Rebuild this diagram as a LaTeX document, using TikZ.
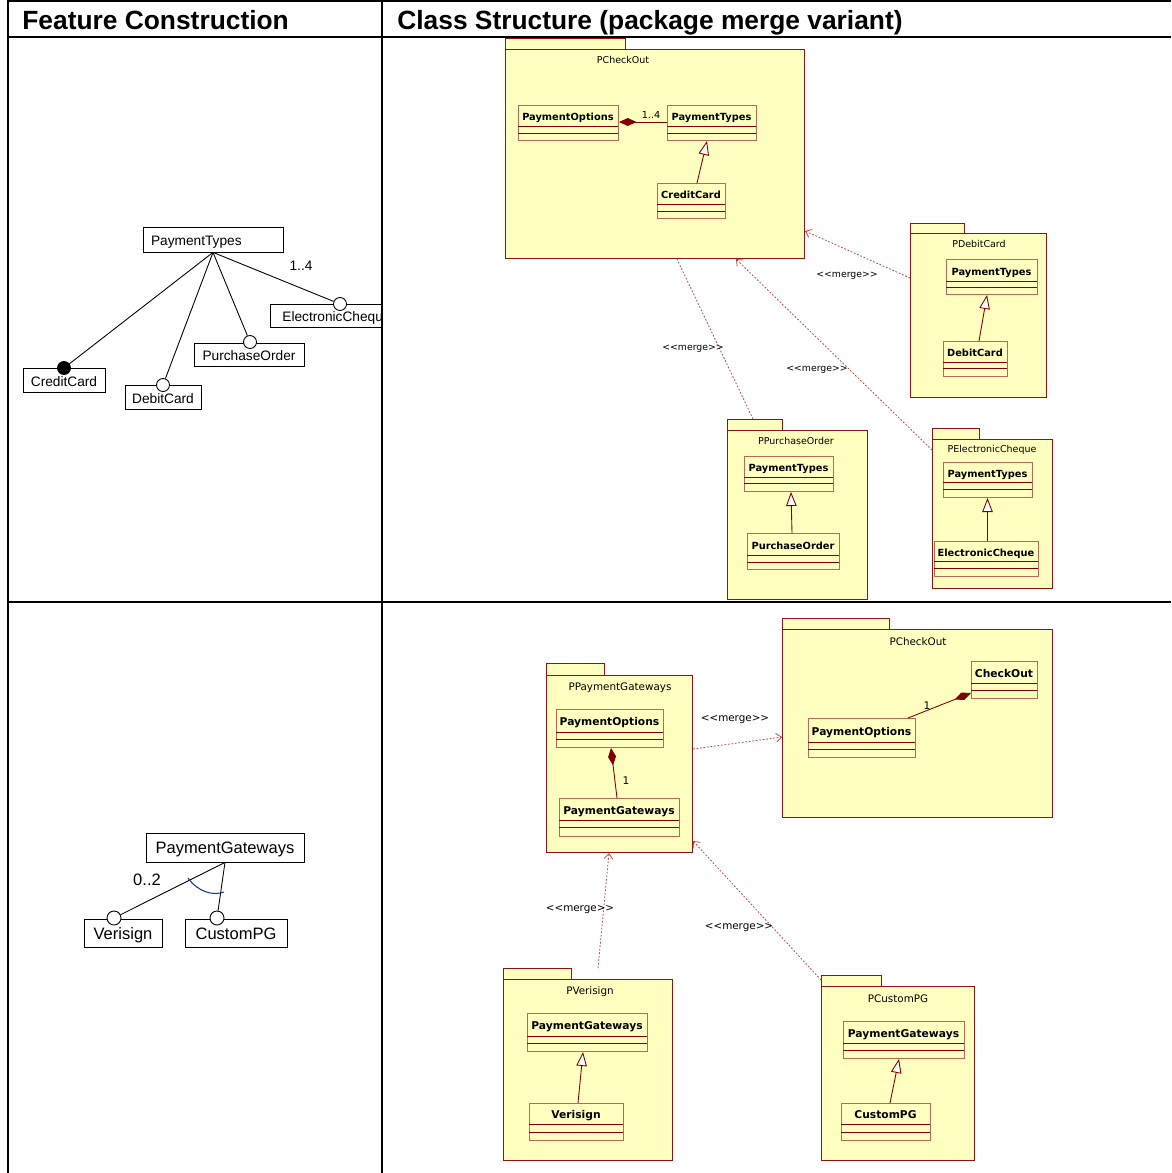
\documentclass[tikz,border=0pt]{standalone}
\usepackage{fontspec}
\setmainfont{Liberation Sans}
\newfontfamily\umlfont{DejaVu Sans}
\usetikzlibrary{arrows.meta}

\definecolor{pkgfill}{RGB}{255,255,191}
\definecolor{pkgline}{RGB}{140,20,20}
\definecolor{clsline}{RGB}{185,105,85}
\definecolor{umlred}{RGB}{128,0,0}
\definecolor{mergeline}{RGB}{185,70,70}
\definecolor{arcblue}{RGB}{30,50,130}

% one drawing unit
\newlength\PX
\setlength\PX{0.02cm}
\newcommand\umlfs[1]{\fontsize{#1}{#1}\selectfont}

% package: name, left x, tab top, tab right, body top, body right, body bottom, title x, title
\newcommand\pkgtoff{11}
\newcommand\umlpkg[9]{%
  \node[pkgbox, minimum width={(#4-#2)*\PX}, minimum height={(#5-#3)*\PX}] (#1-tab) at (#2,#3) {};
  \node[pkgbox, minimum width={(#6-#2)*\PX}, minimum height={(#7-#5)*\PX}] (#1) at (#2,#5) {};
  \node[pkgtitle] (#1-title) at (#8,{#5+\pkgtoff}) {#9};
}
% class: name, left, top, right, bottom, first divider, second divider, class name
\newcommand\umlclass[8]{%
  \node[clsbox, minimum width={(#4-#2)*\PX}, minimum height={(#5-#3)*\PX}] (#1) at (#2,#3) {};
  \draw[cline] (#2,#6) -- (#4,#6) (#2,#7) -- (#4,#7);
  \node[cname] (#1-name) at ({(#2+#4)/2},{(#3+#6)/2}) {#8};
}

\tikzset{
  tbl/.style={line width=1.15pt, black},
  hdr/.style={font=\bfseries\fontsize{15}{18}\selectfont, inner sep=0pt, anchor=base west},
  fbox/.style={draw, line width=0.45pt, inner sep=0pt, minimum height=24*\PX,
    text height=0.72em, text depth=0pt, font=\fontsize{7.8}{9}\selectfont},
  fboxL/.style={fbox, font=\fontsize{9.4}{11}\selectfont, minimum height=29*\PX},
  fcirc/.style={circle, draw, fill=white, line width=0.5pt, inner sep=0pt, minimum size=13*\PX},
  fdot/.style={fcirc, fill=black},
  fedge/.style={line width=0.5pt},
  fmult/.style={inner sep=0pt, font=\fontsize{7.8}{9}\selectfont},
  farc/.style={draw=arcblue, line width=0.6pt},
  pkgbox/.style={draw=pkgline, fill=pkgfill, line width=0.6pt, inner sep=0pt, anchor=north west},
  pkgtitle/.style={inner sep=0pt, font=\umlfont\umlfs{5.4}},
  clsbox/.style={draw=clsline, fill=pkgfill, line width=0.55pt, inner sep=0pt, anchor=north west},
  cline/.style={draw=umlred, line width=0.4pt},
  cname/.style={inner sep=0pt, text height=0.73em, text depth=0.15em, font=\umlfont\bfseries\umlfs{5.6}},
  gen/.style={draw=umlred, line width=0.5pt, -{Triangle[open, length=8pt, width=6pt, fill=white]}},
  comp/.style={draw=umlred, line width=0.5pt, {Diamond[length=10pt, width=4.5pt]}-},
  merge/.style={draw=mergeline, line width=0.45pt, dash pattern=on 1pt off 1pt},
  mergehead/.style={merge, -{Straight Barb[length=3pt, width=5pt]}},
  mlabel/.style={inner sep=0pt, font=\umlfont\umlfs{5.3}},
  mult/.style={inner sep=0pt, font=\umlfont\umlfs{5.5}},
}

\begin{document}
\begin{tikzpicture}[x=0.02cm, y=-0.02cm]
\useasboundingbox (0,0) rectangle (1171,1173);

% ---------- column headers ----------
\node[hdr] (hFeat) at (22,30) {Feature Construction};
\node[hdr] (hClass) at (397,30) {Class Structure (package merge variant)};

% ---------- feature model: payment types ----------
\node[fbox, inner xsep=8*\PX, text width=124*\PX, align=left, minimum height=25*\PX] (ftTypes) at (213,239.5) {PaymentTypes};
\node[fbox, minimum width=82*\PX] (ftCredit) at (64,380) {CreditCard};
\node[fbox, minimum width=76*\PX] (ftDebit) at (163,397) {DebitCard};
\node[fbox, minimum width=110*\PX, minimum height=23*\PX] (ftPurchase) at (249,354.5) {PurchaseOrder};
\begin{scope}
  \clip (0,0) rectangle (381,600);
  \node[fbox, minimum width=133*\PX, minimum height=23*\PX] (ftCheque) at (336.5,315.5) {ElectronicCheque};
\end{scope}
\node[fdot] (cCredit) at (64,368) {};
\node[fcirc] (cDebit) at (163,385) {};
\node[fcirc] (cPurchase) at (250,342) {};
\node[fcirc] (cCheque) at (340,304) {};
\draw[fedge] (ftTypes.south) -- (cCredit);
\draw[fedge] (ftTypes.south) -- (cDebit);
\draw[fedge] (ftTypes.south) -- (cPurchase);
\draw[fedge] (ftTypes.south) -- (cCheque);
\node[fmult] (mFeatTypes) at (301,266) {1..4};

% ---------- feature model: payment gateways ----------
\node[fboxL, minimum width=158*\PX] (fbGate) at (225,847.5) {PaymentGateways};
\node[fboxL, minimum width=78*\PX, minimum height=28*\PX] (fbVeri) at (123,933) {Verisign};
\node[fboxL, minimum width=102*\PX, minimum height=28*\PX] (fbCustom) at (236,933) {CustomPG};
\node[fcirc, minimum size=14*\PX] (cVeri) at (114,918) {};
\node[fcirc, minimum size=14*\PX] (cCustom) at (217,918) {};
\draw[fedge] (fbGate.south) -- (cVeri);
\draw[fedge] (fbGate.south) -- (cCustom);
\draw[farc] (188,878) .. controls (198,892) and (213,896) .. (224,892);
\node[fmult, font=\fontsize{9.4}{11}\selectfont] (mFeatGate) at (147,880) {0..2};

% ---------- class structure: payment types ----------
\umlpkg{pco}{505}{38}{625}{49}{804}{258}{623}{PCheckOut}
\umlclass{coOpt}{518}{105}{618}{140}{126}{133}{PaymentOptions}
\umlclass{coTypes}{667}{105}{756}{140}{126}{133}{PaymentTypes}
\umlclass{coCredit}{657}{183}{725}{218}{204}{211}{CreditCard}
\draw[comp] (coOpt.east |- 0,122) -- (coTypes.west |- 0,122);
\node[mult] (mCoTypes) at (651,115) {1..4};
\draw[gen] (697,0 |- coCredit.north) -- (707,0 |- coTypes.south);

\umlpkg{pdc}{910}{223}{964}{233}{1046}{397}{979}{PDebitCard}
\umlclass{dcTypes}{946}{259}{1037}{294}{281}{287}{PaymentTypes}
\umlclass{dcDebit}{943}{341}{1007}{376}{362}{368}{DebitCard}
\draw[gen] (979,0 |- dcDebit.north) -- (987,0 |- dcTypes.south);

\umlpkg{ppo}{727}{419}{782}{430}{867}{599}{796}{PPurchaseOrder}
\umlclass{poTypes}{744}{456}{833}{491}{477}{483}{PaymentTypes}
\umlclass{poPurchase}{747}{533}{839}{569}{555}{562}{PurchaseOrder}
\draw[gen] (792,0 |- poPurchase.north) -- (791,0 |- poTypes.south);

\umlpkg{pec}{932}{428}{979}{439}{1052}{588}{992}{PElectronicCheque}
\umlclass{ecTypes}{943}{462}{1032}{497}{482}{489}{PaymentTypes}
\umlclass{ecCheque}{934}{541}{1038}{576}{561}{568}{ElectronicCheque}
\draw[gen] (987.5,0 |- ecCheque.north) -- (987.5,0 |- ecTypes.south);

\draw[mergehead] (pdc.west |- 0,278) -- (pco.east |- 0,231);
\node[mlabel] (lDebit) at (847,276) {<<merge>>};
\draw[merge] (753,0 |- ppo-tab.north) -- (677,0 |- pco.south);
\node[mlabel] (lPurchase) at (693,349) {<<merge>>};
\draw[mergehead] (pec.west |- 0,450) -- (736,0 |- pco.south);
\node[mlabel] (lCheque) at (817,370) {<<merge>>};

% ---------- class structure: payment gateways ----------
\begin{scope}[
  cname/.style={inner sep=0pt, text height=0.73em, text depth=0.15em, font=\umlfont\bfseries\umlfs{6.1}},
  pkgtitle/.style={inner sep=0pt, font=\umlfont\umlfs{5.9}},
  mlabel/.style={inner sep=0pt, font=\umlfont\umlfs{5.9}},
  mult/.style={inner sep=0pt, font=\umlfont\umlfs{6}}]
\renewcommand\pkgtoff{13}
\umlpkg{pco2}{782}{618}{889}{629}{1052}{817}{918}{PCheckOut}
\umlclass{co2Check}{971}{661}{1037}{698}{683}{690}{CheckOut}
\umlclass{co2Opt}{808}{718}{915}{757}{742}{749}{PaymentOptions}
\draw[comp] (co2Check.west |- 0,693) -- (908,0 |- co2Opt.north);
\node[mult] (mCheck) at (927,706) {1};

\umlpkg{ppg}{546}{663}{604}{675}{692}{852}{620}{PPaymentGateways}
\umlclass{pgOpt}{556}{709}{663}{747}{732}{739}{PaymentOptions}
\umlclass{pgGate}{559}{798}{679}{836}{820}{827}{PaymentGateways}
\draw[comp] (611,0 |- pgOpt.south) -- (617,0 |- pgGate.north);
\node[mult] (mGate) at (626,781) {1};

\umlpkg{pvs}{503}{968}{571}{979}{672}{1160}{590}{PVerisign}
\umlclass{vsGate}{527}{1013}{647}{1051}{1036}{1043}{PaymentGateways}
\umlclass{vsVeri}{529}{1103}{623}{1140}{1124}{1132}{Verisign}
\draw[gen] (578,0 |- vsVeri.north) -- (583,0 |- vsGate.south);

\umlpkg{pcp}{821}{975}{881}{986}{974}{1160}{898}{PCustomPG}
\umlclass{cpGate}{843}{1021}{964}{1058}{1043}{1050}{PaymentGateways}
\umlclass{cpCustom}{841}{1103}{930}{1140}{1124}{1132}{CustomPG}
\draw[gen] (890,0 |- cpCustom.north) -- (899,0 |- cpGate.south);

\draw[mergehead] (ppg.east |- 0,749) -- (pco2.west |- 0,737);
\node[mlabel] (lGateCheck) at (735,720) {<<merge>>};
\draw[mergehead] (598,0 |- pvs-tab.north) -- (609,0 |- ppg.south);
\node[mlabel] (lVeri) at (580,910) {<<merge>>};
\draw[mergehead] (pcp-tab.west |- 0,980) -- (ppg.east |- 0,841);
\node[mlabel] (lCustom) at (739,928) {<<merge>>};
\end{scope}

% ---------- table rules ----------
\draw[tbl] (7,1) -- (1171,1);
\draw[tbl] (7,37) -- (1171,37);
\draw[tbl] (7,602) -- (1171,602);
\draw[tbl] (8,0) -- (8,1173);
\draw[tbl] (382,0) -- (382,1173);
\end{tikzpicture}
\end{document}
